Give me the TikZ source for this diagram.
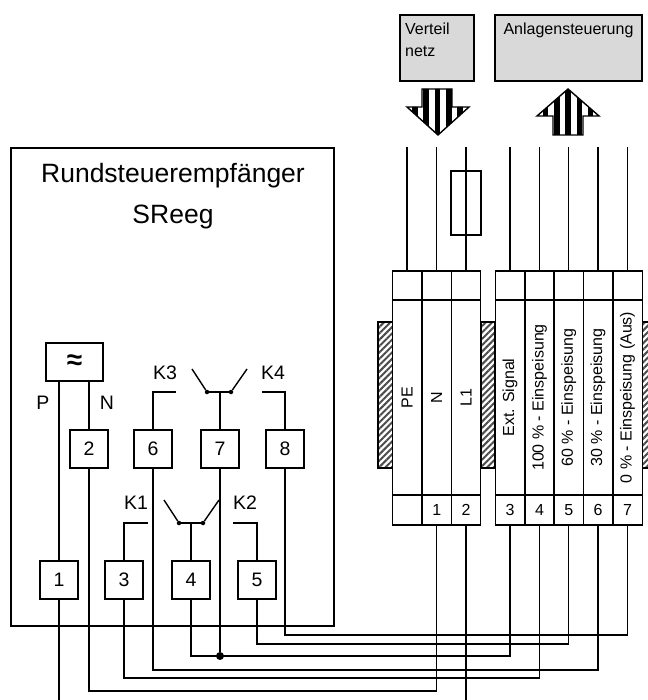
\documentclass[tikz,border=0pt]{standalone}
\usepackage{fontspec}
\setmainfont{Liberation Sans}
\usetikzlibrary{patterns.meta}

\tikzset{
    wire/.style={line width=1.4pt},
    termbox/.style={draw, line width=1.4pt, inner sep=0pt, outer sep=0pt, minimum width=38pt, minimum height=38pt, font=\fontsize{19.5}{19.5}\selectfont},
    cell/.style={draw, line width=1.4pt, inner sep=0pt, outer sep=0pt, minimum width=29.4pt, font=\fontsize{16}{16}\selectfont},
    hatchbar/.style={draw, line width=1.4pt, inner sep=0pt, outer sep=0pt, pattern={Lines[angle=45, distance=4.5pt, line width=2pt]}, pattern color=black!70, minimum height=146pt},
    graybox/.style={draw, line width=1.6pt, fill=black!15, inner sep=0pt, outer sep=0pt, minimum height=66pt},
    graytext/.style={inner sep=0pt, align=left, anchor=north west, font=\fontsize{16}{22}\selectfont},
    klabel/.style={inner sep=0pt, font=\fontsize{19.5}{19.5}\selectfont},
    contact/.style={circle, fill=black, inner sep=0pt, minimum size=4.5pt},
    joint/.style={circle, fill=black, inner sep=0pt, minimum size=8pt}
}

\begin{document}
\begin{tikzpicture}[x=1pt, y=-1pt]
    \useasboundingbox (0, 0) rectangle (647, 700);

    % Supply and plant control
    \node[graybox, minimum width=74pt] (netbox) at (437, 48) {};
    \node[graytext] (netlabel) at ([xshift=5pt, yshift=-8pt]netbox.north west) {Verteil\\netz};
    \node[graybox, minimum width=147pt] (plantbox) at (568.5, 48) {};
    \node[graytext, anchor=north] (plantlabel) at ([yshift=-8pt]plantbox.north) {Anlagensteuerung};

    % Striped arrows
    \begin{scope}
        \clip (422, 89) -- (452, 89) -- (452, 107) -- (469, 107) -- (438, 135) -- (407, 107) -- (422, 107) -- cycle;
        \foreach \i in {-2, ..., 2}
            \fill (437.5 + \i * 11.3 - 2.8, 85) rectangle (437.5 + \i * 11.3 + 2.8, 138);
    \end{scope}
    \draw[line width=1.4pt, line join=miter] (422, 89) -- (452, 89) -- (452, 107) -- (469, 107) -- (438, 135) -- (407, 107) -- (422, 107) -- cycle;
    \begin{scope}
        \clip (553, 135) -- (583, 135) -- (583, 116) -- (599, 116) -- (568, 89) -- (537, 116) -- (553, 116) -- cycle;
        \foreach \i in {-2, ..., 2}
            \fill (568 + \i * 11.3 - 2.8, 85) rectangle (568 + \i * 11.3 + 2.8, 138);
    \end{scope}
    \draw[line width=1.4pt, line join=miter] (553, 135) -- (583, 135) -- (583, 116) -- (599, 116) -- (568, 89) -- (537, 116) -- (553, 116) -- cycle;

    % Terminal strip
    \node[hatchbar, minimum width=15pt] (bar1) at (385.5, 395) {};
    \node[hatchbar, minimum width=14pt] (bar2) at (488, 395) {};
    \node[hatchbar, minimum width=14pt] (bar3) at (649, 395) {};
    \foreach \i/\x/\name in {0/407/PE, 1/436.7/N, 2/466/L1, 3/510/Ext. Signal, 4/539.5/100 \% - Einspeisung, 5/568.7/60 \% - Einspeisung, 6/598/30 \% - Einspeisung, 7/627.5/0 \% - Einspeisung (Aus)} {
        \node[cell, minimum height=29pt] (a\i) at (\x, 285.5) {};
        \node[cell, minimum height=195pt, fill=white] (m\i) at (\x, 397.5) {};
        \node[inner sep=0pt, rotate=90, font=\fontsize{16}{16}\selectfont] (lab\i) at (m\i) {\name};
    }
    \foreach \i/\x/\num in {0/407/{}, 1/436.7/1, 2/466/2, 3/510/3, 4/539.5/4, 5/568.7/5, 6/598/6, 7/627.5/7}
        \node[cell, minimum height=30pt] (c\i) at (\x, 510) {\num};

    % Supply lines from above
    \coordinate (topline) at (0, 147);
    \foreach \i in {0, ..., 7}
        \draw[wire] (a\i.north |- topline) -- (a\i.north);
    \node[draw, line width=1.4pt, inner sep=0pt, outer sep=0pt, minimum width=30pt, minimum height=64pt] (fuse) at (466, 203) {};

    % Receiver
    \node[draw, line width=1.4pt, inner sep=0pt, outer sep=0pt, minimum width=323pt, minimum height=478pt] (receiver) at (172.5, 387) {};
    \node[inner sep=0pt, align=center, font=\fontsize{26.5}{41}\selectfont] (title) at (173, 196) {Rundsteuerempfänger\\SReeg};
    \node[draw, line width=1.4pt, inner sep=0pt, outer sep=0pt, minimum width=57pt, minimum height=38pt, font=\fontsize{28}{28}\selectfont\bfseries] (source) at (74.5, 362) {≈};
    \node[klabel] (plabel) at (43, 403) {P};
    \node[klabel] (nlabel) at (107, 403) {N};

    \foreach \i/\x in {2/89, 6/153, 7/220, 8/285}
        \node[termbox] (r\i) at (\x, 449) {\i};
    \foreach \i/\x in {1/59, 3/124, 4/191, 5/257}
        \node[termbox] (r\i) at (\x, 580) {\i};

    % Upper contacts
    \node[klabel] (k3) at (165, 373) {K3};
    \node[klabel] (k4) at (273, 373) {K4};
    \node[contact] (d3) at (207, 392) {};
    \node[contact] (d4) at (231, 392) {};
    \coordinate (upper) at (0, 392);
    \draw[wire] (d3) -- (192, 369);
    \draw[wire] (d4) -- (247, 369);
    \draw[wire] (d3) -- (d4);
    \draw[wire] (r7.north) -- (r7.north |- upper);
    \draw[wire] (r6.north) -- (r6.north |- upper) -- (176, 392);
    \draw[wire] (r8.north) -- (r8.north |- upper) -- (262, 392);

    % Lower contacts
    \node[klabel] (k1) at (136, 503) {K1};
    \node[klabel] (k2) at (245, 503) {K2};
    \node[contact] (d1) at (179, 523) {};
    \node[contact] (d2) at (203, 523) {};
    \coordinate (lower) at (0, 523);
    \draw[wire] (d1) -- (164, 500);
    \draw[wire] (d2) -- (219, 500);
    \draw[wire] (d1) -- (d2);
    \draw[wire] (r4.north) -- (r4.north |- lower);
    \draw[wire] (r3.north) -- (r3.north |- lower) -- (148, 523);
    \draw[wire] (r5.north) -- (r5.north |- lower) -- (233, 523);

    % Source and receiver wiring
    \draw[wire] (r1 |- source.south) -- (r1.north);
    \draw[wire] (r2 |- source.south) -- (r2.north);
    \coordinate (bottomend) at (0, 700);
    \draw[wire] (r1.south) -- (r1.south |- bottomend);
    \draw[wire] (c2.south) -- (c2.south |- bottomend);
    \draw[wire] (r2.south) -- (r2.south |- 0, 691) -- (c1.south |- 0, 691) -- (c1.south);
    \draw[wire] (r3.south) -- (r3.south |- 0, 678) -- (c4.south |- 0, 678) -- (c4.south);
    \draw[wire] (r6.south) -- (r6.south |- 0, 670) -- (c6.south |- 0, 670) -- (c6.south);
    \draw[wire] (r4.south) -- (r4.south |- 0, 656) -- (c3.south |- 0, 656) -- (c3.south);
    \node[joint] (jn) at (r7.south |- 0, 656) {};
    \draw[wire] (r7.south) -- (jn);
    \draw[wire] (r5.south) -- (r5.south |- 0, 644) -- (c5.south |- 0, 644) -- (c5.south);
    \draw[wire] (r8.south) -- (r8.south |- 0, 635) -- (c7.south |- 0, 635) -- (c7.south);
\end{tikzpicture}
\end{document}
